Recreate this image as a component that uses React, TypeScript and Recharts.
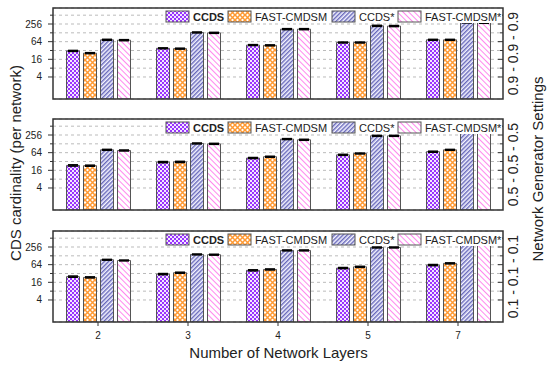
import React from 'react';
import { BarChart, Bar, XAxis, YAxis, CartesianGrid, ErrorBar } from 'recharts';

// ---------- data ----------
const categories = ['2', '3', '4', '5', '7'];
const seriesNames = ['CCDS', 'FAST-CMDSM', 'CCDS*', 'FAST-CMDSM*'];
const settingLabels = ['0.9 - 0.9 - 0.9', '0.5 - 0.5 - 0.5', '0.1 - 0.1 - 0.1'];

const ccds09 = [31, 38, 49, 60, 74];
const fast09 = [26, 37, 48, 60, 74];
const ccdsStar09 = [74, 132, 171, 222, 290];
const fastStar09 = [72, 128, 171, 218, 283];

const ccds05 = [23.5, 30.5, 42, 54, 69];
const fast05 = [23, 31, 46.5, 60, 80];
const ccdsStar05 = [80, 132, 186, 240, 325];
const fastStar05 = [76, 128, 176, 240, 321];

const ccds01 = [25, 30.5, 41, 49, 62];
const fast01 = [23.6, 34, 44, 54, 71];
const ccdsStar01 = [94, 143, 196, 247, 338];
const fastStar01 = [89, 140, 196, 247, 338];

const errCcds = [1.2, 1.4, 1.8, 2.2, 2.8];
const errFast = [1.0, 1.4, 1.8, 2.2, 2.8];
const errCcdsStar = [3, 5, 7, 9, 12];
const errFastStar = [3, 5, 7, 9, 12];

const yTicks = [4, 8, 16, 32, 64, 128, 256, 512];
const yLabelTicks = [4, 16, 64, 256];
const minorTicks = [5, 6, 7, 9, 10, 20, 30, 40, 50, 60, 70, 80, 90, 100, 200, 300, 400, 500, 600, 700, 800];
const yDomain = [0.71, 900];

const panelSets = [
  [ccds09, fast09, ccdsStar09, fastStar09],
  [ccds05, fast05, ccdsStar05, fastStar05],
  [ccds01, fast01, ccdsStar01, fastStar01],
];

const buildRows = (set: number[][]) =>
  categories.map((c, i) => ({
    cat: c,
    ccds: set[0][i],
    fast: set[1][i],
    ccdsStar: set[2][i],
    fastStar: set[3][i],
    ccdsErr: errCcds[i],
    fastErr: errFast[i],
    ccdsStarErr: errCcdsStar[i],
    fastStarErr: errFastStar[i],
  }));

// ---------- layout / style ----------
const W = 550;
const H = 365;
const PL = 53;
const PR = 503;
const PH = 91;
const panelTops = [8, 119, 231];
const FONT = '"Liberation Sans", Arial, Helvetica, sans-serif';
const fills = ['url(#pCCDS)', 'url(#pFAST)', 'url(#pCCDSs)', 'url(#pFASTs)'];
const keys = ['ccds', 'fast', 'ccdsStar', 'fastStar'];
const legendX = [166, 228, 332, 398];

const MajorTick = (props: any) => {
  const { y, payload } = props;
  const v = payload.value;
  const labeled = yLabelTicks.includes(v);
  return (
    <g>
      <line x1={labeled ? 48 : 50} x2={PL} y1={y} y2={y} stroke="#333" strokeWidth={1} />
      <line x1={PR - (labeled ? 5 : 3)} x2={PR} y1={y} y2={y} stroke="#333" strokeWidth={1} />
      {labeled && (
        <text x={42} y={y} dy={3.5} textAnchor="end" fontSize={10} fill="#222" fontFamily={FONT}>
          {v}
        </text>
      )}
    </g>
  );
};

const MinorTick = (props: any) => {
  const { y } = props;
  return (
    <g>
      <line x1={50} x2={PL} y1={y} y2={y} stroke="#333" strokeWidth={0.8} />
      <line x1={PR - 3} x2={PR} y1={y} y2={y} stroke="#333" strokeWidth={0.8} />
    </g>
  );
};

const Panel = ({ idx }: { idx: number }) => {
  const top = panelTops[idx];
  const isBottom = idx === 2;
  const xh = 30;
  const rows = buildRows(panelSets[idx]);
  return (
    <div style={{ position: 'absolute', left: 0, top: 0 }}>
      <BarChart
        width={W}
        height={H}
        data={rows}
        margin={{ top, left: 13, right: 47, bottom: H - top - PH - (isBottom ? xh : 0) }}
        barCategoryGap="15%"
        barGap={4}
      >
        <CartesianGrid vertical={false} stroke="#bbb" strokeDasharray="3 3" />
        <XAxis
          dataKey="cat"
          hide={!isBottom}
          height={xh}
          axisLine={false}
          tickSize={4}
          tickMargin={6}
          tickLine={{ stroke: '#333' }}
          tick={{ fontSize: 10, fill: '#222', fontFamily: FONT }}
        />
        <YAxis
          type="number"
          scale="log"
          domain={yDomain}
          allowDataOverflow
          ticks={yTicks}
          interval={0}
          width={40}
          axisLine={false}
          tickLine={false}
          tick={<MajorTick />}
        />
        <YAxis
          yAxisId="minor"
          orientation="right"
          type="number"
          scale="log"
          domain={yDomain}
          allowDataOverflow
          ticks={minorTicks}
          interval={0}
          width={0}
          axisLine={false}
          tickLine={false}
          tick={<MinorTick />}
        />
        {keys.map((k, i) => (
          <Bar key={k} dataKey={k} name={seriesNames[i]} fill={fills[i]} stroke="#555" strokeWidth={1} isAnimationActive={false}>
            <ErrorBar dataKey={k + 'Err'} width={5} stroke="#000" strokeWidth={1.5} />
          </Bar>
        ))}
      </BarChart>
    </div>
  );
};

const Defs = () => (
  <svg width={0} height={0} style={{ position: 'absolute' }}>
    <defs>
      <pattern id="pCCDS" width="4" height="4" patternUnits="userSpaceOnUse">
        <rect width="4" height="4" fill="#f3e6ff" />
        <rect width="2" height="2" fill="#9933ff" />
        <rect x="2" y="2" width="2" height="2" fill="#9933ff" />
      </pattern>
      <pattern id="pFAST" width="5" height="5" patternUnits="userSpaceOnUse">
        <rect width="5" height="5" fill="#fff" />
        <path d="M0,0 L5,5 M5,0 L0,5" stroke="#ff9933" strokeWidth="1.5" />
      </pattern>
      <pattern id="pCCDSs" width="3" height="3" patternUnits="userSpaceOnUse" patternTransform="rotate(45)">
        <rect width="3" height="3" fill="#f4f4ff" />
        <line x1="0.75" y1="0" x2="0.75" y2="3" stroke="#5a5ab4" strokeWidth="1.3" />
      </pattern>
      <pattern id="pFASTs" width="4" height="4" patternUnits="userSpaceOnUse" patternTransform="rotate(-45)">
        <rect width="4" height="4" fill="#fff" />
        <line x1="0.5" y1="0" x2="0.5" y2="4" stroke="#ff88ee" strokeWidth="1" />
      </pattern>
    </defs>
  </svg>
);

const Overlay = () => (
  <svg width={W} height={H} style={{ position: 'absolute', left: 0, top: 0, pointerEvents: 'none' }} fontFamily={FONT}>
    {panelTops.map((t, p) => (
      <g key={'lg' + p}>
        <rect x={163} y={t + 1} width={PR - 163 - 1} height={14} fill="#fff" />
        {seriesNames.map((n, i) => (
          <g key={n}>
            <rect x={legendX[i]} y={t + 3} width={23} height={11} fill={fills[i]} stroke="#555" strokeWidth={1} />
            <text x={legendX[i] + 27} y={t + 12.5} fontSize={11} fontWeight={i === 0 ? 'bold' : 'normal'} fill="#222">
              {n}
            </text>
          </g>
        ))}
      </g>
    ))}
    {panelTops.map((t, p) => (
      <g key={'fr' + p}>
        <rect x={PL} y={t} width={PR - PL} height={PH} fill="none" stroke="#333" strokeWidth={1.5} />
        <text
          transform={`translate(518,${t + PH / 2}) rotate(-90)`}
          textAnchor="middle"
          fontSize={14}
          fill="#222"
        >
          {settingLabels[p]}
        </text>
      </g>
    ))}
    <text transform="translate(21,163) rotate(-90)" textAnchor="middle" fontSize={15} fill="#222">
      CDS cardinality (per network)
    </text>
    <text transform="translate(543,169) rotate(-90)" textAnchor="middle" fontSize={15} fill="#222">
      Network Generator Settings
    </text>
    <text x={278.5} y={358} textAnchor="middle" fontSize={15} fill="#222">
      Number of Network Layers
    </text>
  </svg>
);

export default function App() {
  return (
    <div style={{ position: 'absolute', left: 0, top: 0, width: W, height: H, background: '#fff' }}>
      <Defs />
      <Panel idx={0} />
      <Panel idx={1} />
      <Panel idx={2} />
      <Overlay />
    </div>
  );
}
